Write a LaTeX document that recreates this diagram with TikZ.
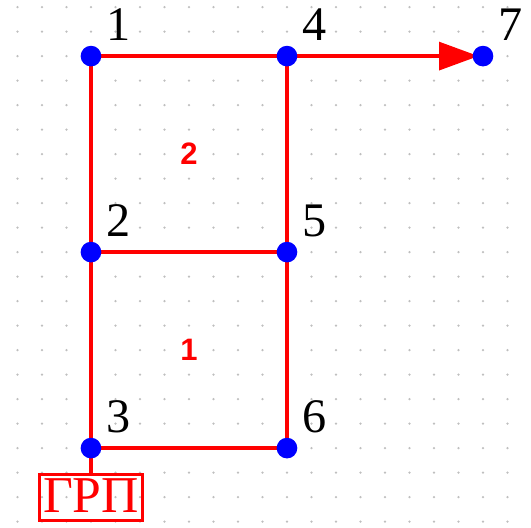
\documentclass[tikz,border=0pt]{standalone}
\usepackage{fontspec}
\setmainfont{Liberation Serif}
\newfontfamily\facefont{Liberation Sans}
\usetikzlibrary{arrows.meta, positioning, backgrounds}
\definecolor{pipered}{RGB}{255,0,0}
\definecolor{nodeblue}{RGB}{0,0,255}

\begin{document}
\begin{tikzpicture}[x=0.5cm, y=0.5cm,
    pt/.style={circle, fill=nodeblue, inner sep=0, minimum size=12pt},
    num/.style={font=\fontsize{28}{28}\selectfont, inner sep=0, label distance=6pt},
    pipe/.style={pipered, line width=2.6pt},
    face/.style={pipered, font=\facefont\bfseries\fontsize{18}{18}\selectfont},
    grp/.style={draw=pipered, line width=1.8pt, text=pipered, inner xsep=2pt, inner ysep=0pt,
      text height=22.5pt, text depth=4.5pt, font=\fontsize{30}{30}\selectfont}]
  \useasboundingbox (-3.714,-3.224) rectangle (17.96,18.29);
  % nodes
  \node[pt, label={[num]45:1}] (n1) at (0,16) {};
  \node[pt, label={[num]45:4}] (n4) at (8,16) {};
  \node[pt, label={[num]45:7}] (n7) at (16,16) {};
  \node[pt, label={[num]45:2}] (n2) at (0,8) {};
  \node[pt, label={[num]45:5}] (n5) at (8,8) {};
  \node[pt, label={[num]45:3}] (n3) at (0,0) {};
  \node[pt, label={[num]45:6}] (n6) at (8,0) {};
  \node[grp, below=8pt of n3] (grp) {ГРП};
  \node[face] (f2) at (4,12) {2};
  \node[face] (f1) at (4,4) {1};
  \begin{scope}[on background layer]
    \foreach \x in {-3,...,17}
      \foreach \y in {-3,...,18} \fill[gray!50] (\x,\y) circle (0.75pt);
    \draw[pipe] (n1.center) -- (n4.center) -- (n5.center) -- (n6.center) -- (n3.center) -- (n2.center) -- (n1.center);
    \draw[pipe] (n2.center) -- (n5.center);
    \draw[pipe] (n3.center) -- (grp.north);
    \draw[pipe, -{Triangle[length=23pt, width=16pt]}, shorten >=2.5pt] (n4.center) -- (n7.center);
  \end{scope}
\end{tikzpicture}
\end{document}
